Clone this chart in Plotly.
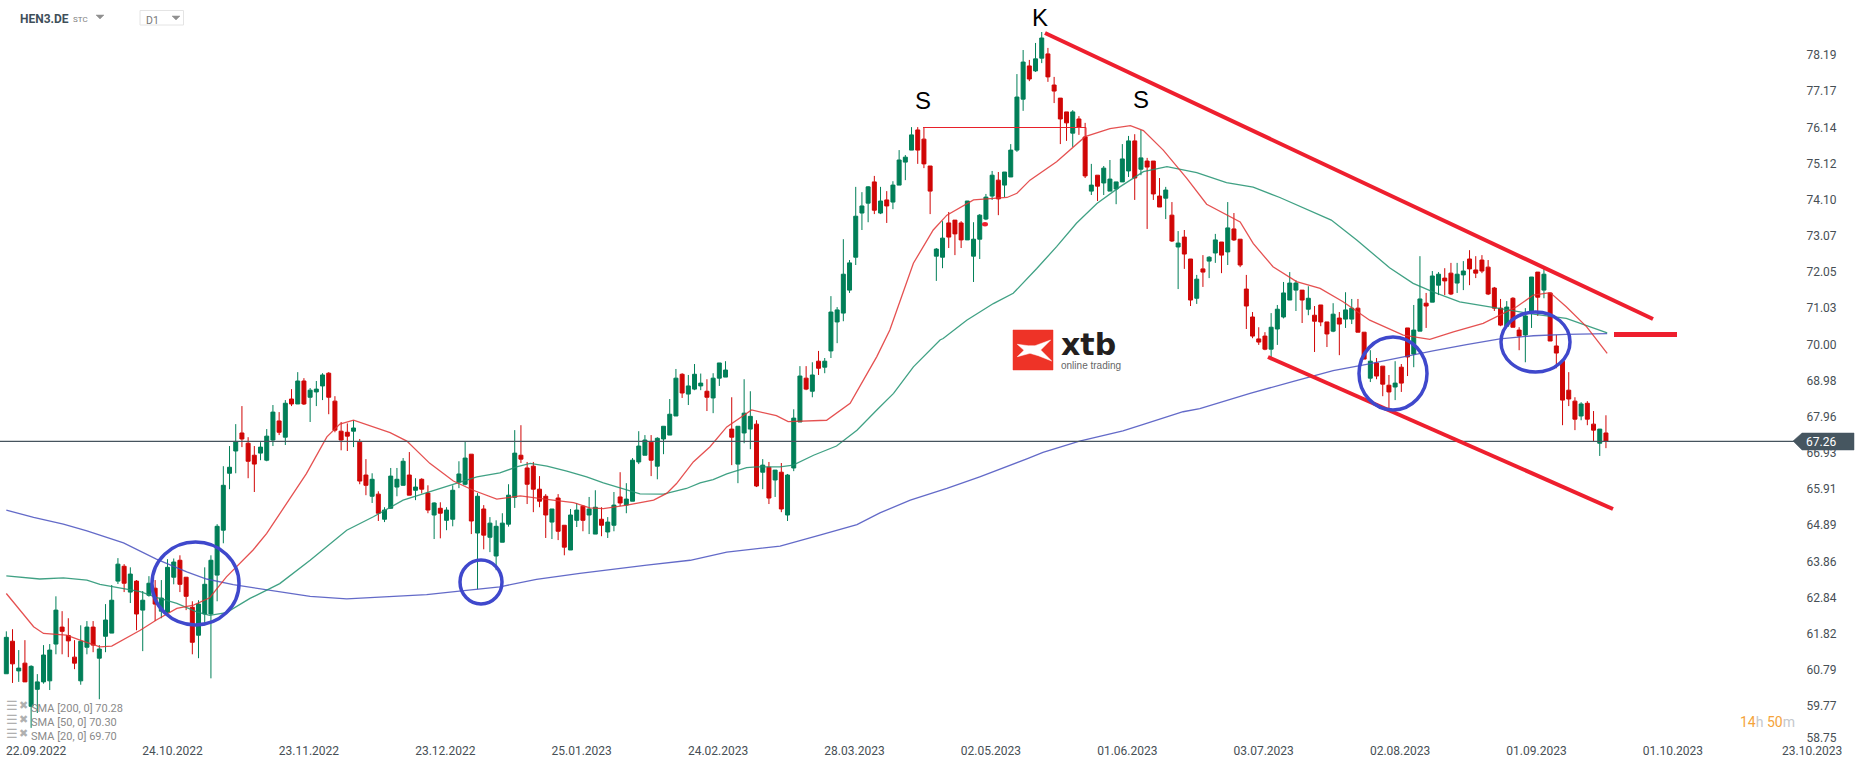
import numpy as np
import plotly.graph_objects as go

opens = [60.69,61.61,60.77,60.99,59.77,60.25,60.46,60.49,61.53,62.01,61.77,61.16,60.49,61.44,62.01,61.13,61.75,61.84,63.31,63.73,63.00,63.31,62.49,62.91,63.11,62.46,62.43,63.42,63.90,63.42,62.57,61.78,62.38,62.38,
63.48,64.75,66.36,66.99,67.50,67.21,66.87,66.93,66.73,67.30,67.84,67.38,68.46,68.32,68.97,68.51,68.66,68.83,69.19,68.40,67.55,67.52,67.55,67.24,66.31,65.71,65.77,65.06,65.37,65.97,66.02,66.31,65.88,66.19,
65.80,65.18,65.37,65.03,65.06,66.11,66.05,66.90,64.67,65.35,64.55,64.02,64.41,64.92,65.68,66.87,66.51,66.56,65.91,65.71,64.98,65.66,64.89,64.19,65.03,65.43,65.18,64.64,65.06,64.70,64.89,65.69,65.46,65.57,
66.68,66.87,67.24,66.56,67.33,67.44,67.98,69.16,68.60,68.74,68.83,68.68,68.49,69.05,69.08,67.61,66.62,67.50,67.61,67.75,66.39,66.53,66.17,66.39,65.18,66.51,67.81,69.05,68.68,69.53,69.36,69.82,70.64,70.89,
71.54,72.47,73.72,74.00,74.60,73.72,74.09,74.03,74.51,75.16,75.50,76.07,75.81,75.05,72.50,72.47,73.44,73.52,73.44,72.96,72.50,72.98,73.55,74.20,74.65,74.51,74.74,75.50,76.94,77.88,77.74,78.10,78.22,77.34,
76.97,76.58,75.98,76.38,75.87,74.34,74.79,74.57,74.34,74.40,74.60,74.91,75.76,74.96,75.19,75.19,74.20,74.14,73.66,72.76,73.04,72.42,71.31,72.14,72.36,72.59,72.90,72.62,73.27,72.98,71.57,70.78,70.16,70.24,
69.87,70.44,70.78,71.26,71.54,71.54,71.00,70.83,71.12,70.64,70.38,70.75,70.72,70.72,71.03,70.35,69.05,69.48,69.39,68.85,68.80,69.36,70.47,69.73,70.38,71.17,71.20,71.68,71.88,72.02,71.74,71.97,72.42,72.11,
72.39,72.19,71.60,71.03,70.52,71.31,70.41,70.27,70.95,72.05,71.54,71.46,69.96,69.53,68.71,68.40,67.98,68.34,67.75,67.21,67.50]
highs = [61.89,61.95,61.36,61.64,60.93,60.68,61.50,61.53,62.88,62.46,62.26,61.64,62.06,62.18,62.18,61.50,62.66,63.20,63.96,63.79,63.70,63.34,63.03,63.45,63.34,63.34,63.93,63.95,64.04,63.42,62.74,62.77,63.70,64.04,
64.92,66.56,67.13,67.75,68.26,67.38,67.13,67.24,67.61,68.29,68.09,68.43,68.74,69.22,69.05,68.77,68.97,69.19,69.22,68.54,67.81,67.77,67.86,67.33,66.76,66.36,65.85,65.40,66.51,66.51,66.79,66.96,66.22,66.22,
66.02,65.54,65.54,65.40,66.02,66.70,67.26,66.90,65.80,65.46,65.12,65.03,65.23,66.05,67.58,67.72,66.68,66.68,66.28,65.77,65.35,65.77,64.89,65.35,65.52,65.46,65.69,65.88,65.40,65.12,65.83,66.39,66.08,66.79,
67.55,67.44,67.44,67.38,67.69,68.46,69.31,69.19,69.14,69.45,69.18,69.02,69.19,69.48,69.53,68.51,67.69,69.02,68.68,67.86,66.76,66.68,66.45,66.65,66.34,68.17,69.39,69.39,69.50,69.82,69.62,71.37,71.06,72.98,
72.39,74.46,74.31,74.48,74.77,74.46,74.34,74.62,75.50,75.36,76.15,76.15,76.15,75.05,72.73,73.49,73.75,73.52,73.49,74.06,73.46,73.69,74.26,74.91,74.88,74.88,75.67,77.65,78.33,78.05,78.53,78.84,78.39,77.57,
76.97,76.58,76.63,76.46,76.27,75.11,74.79,75.05,75.22,74.60,75.67,75.90,75.95,76.07,75.28,75.19,74.71,74.46,74.03,73.21,73.24,72.42,71.97,72.53,72.50,73.13,72.90,74.03,73.72,72.98,71.97,70.92,70.49,70.35,
70.89,71.12,71.77,72.05,71.82,71.54,71.65,71.09,71.12,70.64,71.17,70.92,71.48,71.29,71.29,70.35,69.84,69.62,69.39,69.14,69.53,69.45,70.47,71.12,72.50,71.46,72.08,72.05,72.16,72.31,72.31,72.36,72.67,72.50,
72.53,72.39,71.63,71.29,71.23,71.34,70.49,71.03,71.91,72.05,72.14,71.46,70.27,69.53,69.22,68.51,68.37,68.40,68.12,67.61,68.00]
lows = [60.69,60.43,60.46,60.46,59.16,59.58,60.41,60.23,61.24,61.24,61.16,60.82,60.38,61.24,61.30,59.97,61.30,61.84,63.23,63.00,62.69,61.92,61.33,62.87,62.18,62.26,62.39,63.22,63.00,62.49,61.24,61.13,62.06,60.56,
62.74,64.38,65.91,66.36,67.10,66.22,65.83,66.73,66.70,67.13,67.44,67.16,68.26,68.32,68.29,67.81,68.26,68.43,68.03,67.52,67.01,66.99,67.10,66.05,65.74,65.52,65.01,64.98,65.36,65.71,66.19,65.74,65.60,65.79,
65.23,64.50,64.52,64.75,64.86,65.94,66.02,64.64,63.08,64.21,64.13,63.62,64.41,64.85,65.38,66.65,65.49,65.26,65.40,64.53,64.50,64.47,64.04,64.19,64.84,64.72,64.64,64.64,64.58,64.53,64.72,65.43,65.23,65.57,
66.62,66.87,66.28,66.19,66.90,67.44,67.98,68.49,68.29,68.71,68.71,68.12,68.06,68.83,69.08,66.59,66.08,67.21,67.04,65.97,65.91,65.49,65.69,65.26,65.01,66.42,67.81,68.71,68.51,69.14,69.19,69.62,70.04,70.66,
71.46,72.25,73.24,73.46,73.69,73.69,73.44,73.83,74.51,74.65,75.50,75.11,74.99,73.69,71.80,72.16,72.73,72.53,72.73,72.96,71.77,72.42,73.52,74.09,73.66,74.17,74.74,75.45,76.61,77.45,77.71,77.96,77.43,76.83,
75.67,75.76,75.59,75.93,74.71,74.23,74.06,74.23,74.34,73.97,74.60,74.74,74.09,74.79,73.27,74.09,73.89,73.55,72.90,71.57,72.14,71.09,71.15,71.63,71.88,72.31,72.02,72.25,72.93,72.19,70.44,70.18,69.99,69.84,
69.62,69.99,70.74,71.26,70.95,70.61,70.83,69.79,70.52,69.93,70.35,69.70,70.47,70.58,70.35,69.59,68.94,69.02,68.54,68.20,68.43,68.66,69.11,69.36,70.38,70.47,71.20,71.40,71.40,71.40,71.46,71.54,71.68,71.88,
72.02,71.40,70.95,70.52,70.52,70.49,69.84,69.50,70.47,70.81,71.31,70.10,69.33,67.72,68.26,67.58,67.86,67.72,67.26,66.85,67.07]
closes = [61.72,60.97,60.85,60.46,60.90,60.46,61.22,61.36,62.49,61.89,61.62,60.99,61.61,62.01,61.50,61.39,62.21,62.77,63.79,63.25,63.51,62.38,62.77,63.25,62.66,62.83,63.70,63.85,63.22,62.88,61.58,62.66,63.22,63.90,
64.86,66.02,66.53,67.26,67.33,66.70,66.62,67.10,67.41,68.09,67.52,68.34,68.32,68.97,68.32,68.71,68.74,69.14,68.51,67.58,67.30,67.41,67.64,66.14,66.02,66.19,65.23,65.32,66.28,66.19,66.70,65.74,65.97,65.91,
65.32,65.52,65.23,65.32,65.88,66.34,66.79,65.01,65.71,64.61,64.95,64.86,64.95,65.74,66.93,66.76,66.05,65.91,65.57,65.18,65.35,64.72,64.27,65.18,65.32,65.03,65.35,65.40,64.89,64.98,65.46,65.52,65.63,66.73,
67.13,67.30,66.73,67.35,67.69,68.03,69.05,68.63,68.83,69.16,68.91,68.51,69.05,69.48,69.28,67.38,67.69,68.06,67.97,66.00,66.59,65.66,66.45,65.35,66.31,67.92,69.11,68.74,69.14,69.33,69.53,70.92,70.98,71.99,
72.31,73.63,73.92,74.46,73.80,74.06,73.92,74.51,75.22,75.30,75.93,75.50,75.11,74.34,72.70,73.01,73.04,73.13,72.96,74.06,72.98,73.66,74.17,74.79,74.12,74.88,75.50,77.00,77.99,77.51,78.08,78.67,77.57,77.17,
76.38,76.27,76.58,76.15,74.77,74.51,74.48,74.99,74.68,74.60,75.25,75.76,74.71,75.28,75.02,74.26,73.89,74.37,72.93,72.87,72.56,71.26,71.85,72.05,72.47,72.96,72.53,73.30,72.96,72.25,71.09,70.24,70.07,69.87,
70.49,71.00,71.46,71.74,71.74,71.26,71.31,70.66,70.64,70.30,70.86,70.58,70.98,71.03,70.35,69.59,69.53,69.11,68.88,68.66,68.91,68.91,69.65,70.41,71.29,71.09,71.94,71.99,71.80,71.43,71.99,72.08,72.14,72.02,
72.08,71.43,71.03,70.55,71.06,70.49,70.24,70.81,71.91,71.34,71.99,70.10,69.76,68.43,68.46,67.89,68.32,67.89,67.58,67.61,67.26]

sma200_idx = [0.0,4.4,9.2,13.0,18.9,24.2,29.1,32.3,36.6,42.0,49.0,54.9,60.8,67.8,74.2,79.6,85.5,92.5,103.3,110.3,116.2,124.8,131.2,137.2,140.9,145.8,151.7,157.0,164.5,167.2,173.1,180.1,183.4,189.8,192.5,200.6,207.6,214.0,219.4,224.8,230.1,235.5,240.9,246.3,251.6,258.2]
sma200 = [65.32,65.11,64.92,64.73,64.39,63.93,63.57,63.37,63.21,63.07,62.88,62.81,62.87,62.93,63.05,63.15,63.36,63.53,63.76,63.90,64.13,64.30,64.61,64.91,65.24,65.60,65.93,66.26,66.76,66.95,67.27,67.56,67.74,68.10,68.19,68.62,68.96,69.26,69.44,69.64,69.82,70.00,70.16,70.25,70.29,70.31]
sma50_idx = [0.0,2.2,5.4,9.2,13.0,15.1,21.6,24.2,27.5,30.7,32.8,35.5,39.3,44.1,49.0,54.9,59.2,64.0,71.6,75.9,79.6,82.3,84.5,87.2,90.4,93.6,96.3,100.1,102.2,106.0,109.7,111.9,114.0,116.2,119.4,121.0,124.8,126.9,130.2,133.9,137.2,140.4,143.1,146.3,150.6,151.1,154.9,159.2,162.4,166.2,169.4,172.6,175.9,179.6,183.4,187.2,192.0,196.8,201.1,205.4,213.7,217.8,223.1,226.9,230.1,234.4,239.8,246.3,251.6,258.2]
sma50 = [63.46,63.43,63.37,63.40,63.34,63.22,63.01,62.85,62.68,62.44,62.34,62.42,62.82,63.24,63.90,64.75,65.13,65.60,66.02,66.26,66.37,66.54,66.64,66.56,66.42,66.26,66.09,65.88,65.78,65.77,65.93,66.09,66.18,66.34,66.52,66.54,66.54,66.59,66.87,67.13,67.58,68.15,68.62,69.37,70.13,70.17,70.69,71.16,71.45,72.15,72.77,73.43,73.99,74.46,74.89,75.03,74.86,74.58,74.45,74.16,73.52,72.96,72.17,71.73,71.49,71.21,71.05,70.86,70.74,70.33]
sma20_idx = [0.0,2.2,4.4,6.0,9.7,11.9,15.1,17.0,21.6,24.2,27.5,30.2,32.8,35.5,39.8,42.0,45.2,48.4,51.7,53.8,56.0,58.1,61.9,64.6,68.3,72.1,75.3,79.1,82.9,87.2,91.5,94.1,96.3,100.1,104.4,106.5,108.1,110.8,113.5,116.2,120.2,124.2,126.1,132.3,136.1,140.4,142.5,146.3,149.5,151.7,156.0,161.4,163.0,165.1,169.4,174.0,178.0,181.3,183.4,186.6,190.4,193.6,199.0,201.1,204.3,208.1,211.9,215.6,219.9,225.3,229.6,233.4,238.2,243.6,246.3,249.0,251.6,254.9,258.2]
sma20 = [62.96,62.49,62.02,61.83,61.78,61.64,61.45,61.47,61.92,62.21,62.54,62.63,62.84,63.43,64.19,64.66,65.51,66.35,67.39,67.75,67.86,67.73,67.51,67.27,66.64,66.14,65.88,65.63,65.72,65.62,65.53,65.38,65.36,65.46,65.6,65.79,66.07,66.68,67.11,67.67,68.15,67.99,67.82,67.86,68.34,69.66,70.41,72.3,73.24,73.66,74.09,74.16,74.28,74.65,75.17,75.88,76.11,76.19,76.05,75.5,74.7,73.97,73.47,72.86,72.2,71.78,71.59,71.21,70.69,70.27,70.15,70.36,70.6,71.07,71.4,71.47,71.07,70.5,69.75]

x_tick_candles = [0,22,44,66,88,110,132,154,176,198,220,242,264]
x_tick_labels = ["22.09.2022","24.10.2022","23.11.2022","23.12.2022","25.01.2023","24.02.2023","28.03.2023","02.05.2023","01.06.2023","03.07.2023","02.08.2023","01.09.2023","01.10.2023"]
last_date_label = "23.10.2023"
y_tick_labels = [78.19,77.17,76.14,75.12,74.10,73.07,72.05,71.03,70.00,68.98,67.96,66.93,65.91,64.89,63.86,62.84,61.82,60.79,59.77,58.75]
sma_legend = [("SMA [200, 0]",70.28),("SMA [50, 0]",70.30),("SMA [20, 0]",69.70)]
last_price = 67.26

W, H = 1866, 767
PW, PH = 1800, 742
px = lambda v: v / PW
py = lambda v: 1 - v / PH

n = len(closes)
fig = go.Figure()
fig.add_trace(go.Candlestick(
    x=np.arange(n), open=opens, high=highs, low=lows, close=closes,
    increasing=dict(line=dict(color="#017f58", width=1), fillcolor="#017f58"),
    decreasing=dict(line=dict(color="#d00606", width=1), fillcolor="#d00606"),
    whiskerwidth=0, showlegend=False, name="HEN3.DE"))
fig.add_trace(go.Scatter(x=sma200_idx, y=sma200, mode="lines", name="SMA 200", showlegend=False,
                         line=dict(color="rgba(72,80,190,0.85)", width=1.3)))
fig.add_trace(go.Scatter(x=sma50_idx, y=sma50, mode="lines", name="SMA 50", showlegend=False,
                         line=dict(color="rgba(30,145,110,0.85)", width=1.3)))
fig.add_trace(go.Scatter(x=sma20_idx, y=sma20, mode="lines", name="SMA 20", showlegend=False,
                         line=dict(color="rgba(224,50,50,0.85)", width=1.3)))

RED = "#ee1f2e"
BLUE = "#3f48cc"
shapes = []
def seg(x0, y0, x1, y1, color=RED, width=4):
    shapes.append(dict(type="line", xref="paper", yref="paper", x0=px(x0), y0=py(y0), x1=px(x1), y1=py(y1),
                       line=dict(color=color, width=width)))
def ring(x0, y0, x1, y1):
    shapes.append(dict(type="circle", xref="paper", yref="paper", x0=px(x0), y0=py(y0), x1=px(x1), y1=py(y1),
                       line=dict(color=BLUE, width=3.5)))
def poly(pts, color, line=None):
    d = "M " + " L ".join(f"{px(a):.5f} {py(b):.5f}" for a, b in pts) + " Z"
    shapes.append(dict(type="path", xref="paper", yref="paper", path=d, fillcolor=color,
                       line=dict(color=line or color, width=0.5)))

shapes.append(dict(type="line", xref="paper", yref="y", x0=0, x1=px(1794), y0=last_price, y1=last_price,
                   line=dict(color="#46545e", width=1.3)))
seg(1045, 33, 1653, 319)
seg(1268, 357, 1613, 509)
seg(1614, 334.5, 1677, 334.5, width=5)
seg(923, 127.5, 1086, 127.5, color="#e8202a", width=1)
seg(1086, 127.5, 1086, 137, color="#e8202a", width=1)
shapes.append(dict(type="circle", xref="paper", yref="paper", x0=px(982), y0=py(222), x1=px(988), y1=py(226.5),
                   fillcolor=RED, line=dict(color=RED, width=0)))
ring(152, 542, 239, 625)
ring(460, 560, 502, 604)
ring(1359, 337, 1427, 410)
ring(1501, 312, 1570, 372)
poly([(1793, 441), (1802, 433), (1854, 433), (1854, 450), (1802, 450)], "#465660")
poly([(1013, 330), (1053, 330), (1053, 370), (1013, 370)], "#ee3327")
poly([(1017.3, 344.3), (1028.3, 345.7), (1035, 345.7), (1050.7, 340), (1040.7, 350), (1051.7, 361),
      (1038.3, 355.7), (1030, 353.3), (1017.3, 356.7), (1024, 350.3)], "#ffffff")
shapes.append(dict(type="rect", xref="paper", yref="paper", x0=px(140), y0=py(10.5), x1=px(183.5), y1=py(25),
                   line=dict(color="#e4e4e4", width=1)))
poly([(96, 15), (104, 15), (100, 19)], "#909090")
poly([(172, 16), (180, 16), (176, 20)], "#909090")

anns = []
def text(x, y, t, size, color, family="Roboto", anchor="left"):
    anns.append(dict(xref="paper", yref="paper", x=px(x), y=py(y), xanchor=anchor, yanchor="middle",
                     text=t, showarrow=False, font=dict(family=family, size=size, color=color),
                     borderpad=0, borderwidth=0))

text(1040, 17, "K", 24, "#000000", "Liberation Sans", "center")
text(923, 100, "S", 24, "#000000", "Liberation Sans", "center")
text(1141, 99, "S", 24, "#000000", "Liberation Sans", "center")
text(20, 19, "<b>HEN3.DE</b>", 12, "#3f4f5a")
text(73, 19.5, "STC", 8, "#808080")
text(146, 20, "D1", 10.5, "#777777")
text(1061, 345, "<b>xtb</b>", 30, "#231f20", "DejaVu Sans")
text(1061, 365, "online trading", 10, "#666666", "Liberation Sans")
text(1806, 441.5, f"{last_price:.2f}", 12, "#ffffff")
text(1740, 722, '<span style="color:#f5a33a">14</span><span style="color:#c4c8cc">h</span> '
                '<span style="color:#f5a33a">50</span><span style="color:#c4c8cc">m</span>', 14, "#f5a33a")
text(1782, 750.7, last_date_label, 12, "#474f55")
for k, (name, val) in enumerate(sma_legend):
    yy = 708 + 14 * k
    text(6, yy - 3, "☰", 13, "#b0b0b0", "DejaVu Sans")
    text(19, yy - 3, "✖", 11, "#b0b0b0", "DejaVu Sans")
    text(31, yy, f"{name} {val:.2f}", 11, "#8a8a8a")

# 58.75 sits a little above its true height in the reference, clear of the date row
y_tick_pos = [v if v != 58.75 else 58.88 for v in y_tick_labels]

fig.update_layout(
    width=W, height=H, autosize=False,
    margin=dict(l=0, r=W - PW, t=0, b=H - PH, pad=0),
    paper_bgcolor="white", plot_bgcolor="white",
    boxgap=0.2, boxgroupgap=0.2,
    xaxis=dict(range=[-1.02, 289.3], rangeslider=dict(visible=False), showgrid=False, zeroline=False,
               showline=False, tickmode="array", tickvals=[i + 4.8 for i in x_tick_candles],
               ticktext=x_tick_labels, ticks="", tickangle=0,
               tickfont=dict(family="Roboto", size=12, color="#474f55")),
    yaxis=dict(range=[58.76, 79.745], side="right", showgrid=False, zeroline=False, showline=False,
               tickmode="array", tickvals=y_tick_pos, ticktext=[f"{v:.2f}" for v in y_tick_labels],
               ticks="outside", ticklen=3, tickcolor="rgba(0,0,0,0)",
               tickfont=dict(family="Roboto", size=12, color="#474f55")),
    shapes=shapes, annotations=anns, showlegend=False)
fig.write_html("out.html", config={"displayModeBar": False},
               post_script="document.body.style.margin='0';document.body.style.overflow='hidden';")
